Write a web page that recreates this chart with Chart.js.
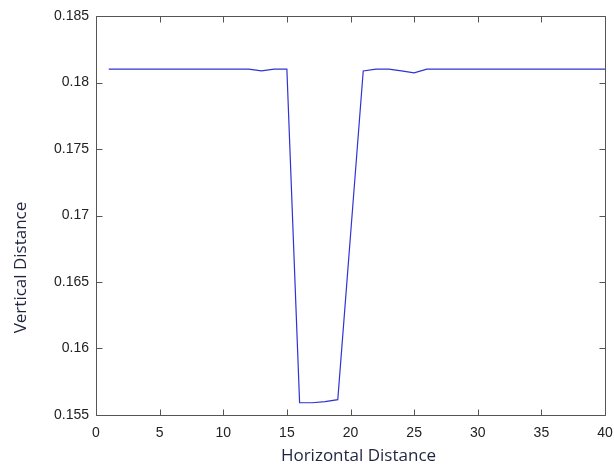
<!DOCTYPE html>
<html>
<head>
<meta charset="utf-8">
<script src="https://cdn.jsdelivr.net/npm/chart.js@4"></script>
<style>
  html, body { margin: 0; padding: 0; background: #fff; }
  #wrap { width: 614px; height: 469px; }
</style>
</head>
<body>
<div id="wrap"><canvas id="chart" width="614" height="469"></canvas></div>
<script>
const horizontal = [1, 2, 3, 4, 5, 6, 7, 8, 9, 10, 11, 12, 13, 14, 15, 16, 17, 18, 19, 20,
                    21, 22, 23, 24, 25, 26, 27, 28, 29, 30, 31, 32, 33, 34, 35, 36, 37, 38, 39, 40];
const vertical = [0.181, 0.181, 0.181, 0.181, 0.181, 0.181, 0.181, 0.181, 0.181, 0.181,
                  0.181, 0.181, 0.18088, 0.181, 0.181, 0.15592, 0.15592, 0.1560, 0.15615, 0.1685,
                  0.18087, 0.181, 0.181, 0.18088, 0.18072, 0.181, 0.181, 0.181, 0.181, 0.181,
                  0.181, 0.181, 0.181, 0.181, 0.181, 0.181, 0.181, 0.181, 0.181, 0.181];

const xTitle = 'Horizontal Distance';
const yTitle = 'Vertical Distance';

const points = horizontal.map((x, i) => ({ x: x, y: vertical[i] }));

// MATLAB style box with inward ticks on all four sides
const boxTicks = {
    id: 'boxTicks',
    afterDraw(chart) {
        const ctx = chart.ctx;
        const a = chart.chartArea;
        const len = 6;
        const xs = chart.scales.x, ys = chart.scales.y;
        const L = Math.round(a.left) + 0.5, R = Math.round(a.right) + 0.5;
        const T = Math.round(a.top) + 0.5, B = Math.round(a.bottom) + 0.5;
        ctx.save();
        ctx.strokeStyle = '#555';
        ctx.lineWidth = 1;
        ctx.beginPath();
        ctx.rect(L, T, R - L, B - T);
        ctx.stroke();
        ctx.beginPath();
        for (let v = xs.min; v <= xs.max; v += 5) {
            const px = Math.round(xs.getPixelForValue(v)) + 0.5;
            ctx.moveTo(px, B); ctx.lineTo(px, B - len);
            ctx.moveTo(px, T); ctx.lineTo(px, T + len);
        }
        for (let i = 0; i <= 6; i++) {
            const py = Math.round(ys.getPixelForValue(ys.min + i * 0.005)) + 0.5;
            ctx.moveTo(L, py); ctx.lineTo(L + len, py);
            ctx.moveTo(R, py); ctx.lineTo(R - len, py);
        }
        ctx.stroke();

        // axis titles (placed like the original figure, a bit off-centre)
        ctx.fillStyle = '#1f2540';
        ctx.font = '17px "Open Sans"';
        ctx.textAlign = 'center';
        ctx.textBaseline = 'middle';
        ctx.fillText(xTitle, (a.left + a.right) / 2 + 8, a.bottom + 41);
        ctx.translate(21, (a.top + a.bottom) / 2 + 52);
        ctx.rotate(-Math.PI / 2);
        ctx.fillText(yTitle, 0, 0);
        ctx.restore();
    }
};

new Chart(document.getElementById('chart'), {
    type: 'line',
    data: {
        datasets: [{
            data: points,
            borderColor: 'rgb(50, 50, 210)',
            borderWidth: 1.2,
            pointRadius: 0,
            fill: false,
            tension: 0
        }]
    },
    options: {
        responsive: false,
        animation: false,
        layout: { padding: { top: 16, right: 9, left: 0, bottom: 0 } },
        plugins: {
            legend: { display: false },
            tooltip: { enabled: false }
        },
        scales: {
            x: {
                type: 'linear',
                min: 0,
                max: 40,
                border: { display: false },
                grid: { display: false, drawTicks: false },
                ticks: {
                    stepSize: 5,
                    padding: 10,
                    color: '#222',
                    font: { family: 'Liberation Sans', size: 14 },
                    maxRotation: 0
                },
                afterFit(scale) {
                    scale.height = 54;
                    scale.paddingRight = 0;
                    scale.paddingLeft = 0;
                }
            },
            y: {
                min: 0.155,
                max: 0.185,
                border: { display: false },
                grid: { display: false, drawTicks: false },
                ticks: {
                    stepSize: 0.005,
                    padding: 7,
                    color: '#222',
                    font: { family: 'Liberation Sans', size: 14 },
                    callback: v => String(+v.toFixed(3))
                },
                afterFit(scale) {
                    scale.width = 96;
                    scale.paddingTop = 0;
                    scale.paddingBottom = 0;
                }
            }
        }
    },
    plugins: [boxTicks]
});
</script>
</body>
</html>
